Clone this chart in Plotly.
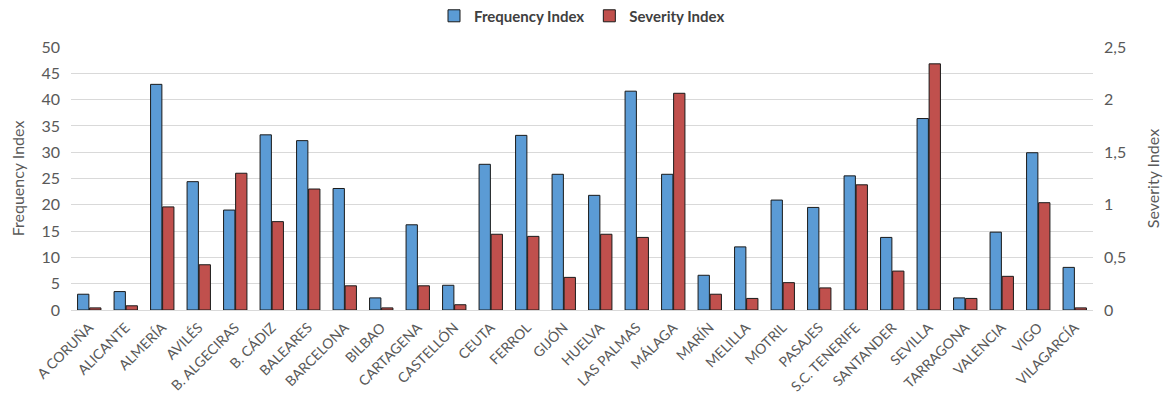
import plotly.graph_objects as go

ports = ["A CORUÑA", "ALICANTE", "ALMERÍA", "AVILÉS", "B. ALGECIRAS", "B. CÁDIZ",
         "BALEARES", "BARCELONA", "BILBAO", "CARTAGENA", "CASTELLÓN", "CEUTA",
         "FERROL", "GIJÓN", "HUELVA", "LAS PALMAS", "MÁLAGA", "MARÍN", "MELILLA",
         "MOTRIL", "PASAJES", "S.C. TENERIFE", "SANTANDER", "SEVILLA", "TARRAGONA",
         "VALENCIA", "VIGO", "VILAGARCÍA"]

frequency_index = [3.0, 3.5, 42.9, 24.4, 19.0, 33.3,
                   32.2, 23.1, 2.3, 16.2, 4.7, 27.7,
                   33.2, 25.8, 21.8, 41.6, 25.8, 6.6, 12.0,
                   20.9, 19.5, 25.5, 13.8, 36.4, 2.3,
                   14.8, 29.9, 8.1]

severity_index = [0.02, 0.04, 0.98, 0.43, 1.30, 0.84,
                  1.15, 0.23, 0.02, 0.23, 0.05, 0.72,
                  0.70, 0.31, 0.72, 0.69, 2.06, 0.15, 0.11,
                  0.26, 0.21, 1.19, 0.37, 2.34, 0.11,
                  0.32, 1.02, 0.02]

grey = "#595959"
font_family = "Lato, 'Open Sans', sans-serif"

fig = go.Figure()
fig.add_trace(go.Bar(
    x=ports, y=frequency_index, name="Frequency Index",
    marker=dict(color="#5B9BD5", line=dict(color="#1a1a1a", width=1)),
    offsetgroup="freq", yaxis="y",
))
fig.add_trace(go.Bar(
    x=ports, y=severity_index, name="Severity Index",
    marker=dict(color="#C0504D", line=dict(color="#1a1a1a", width=1)),
    offsetgroup="sev", yaxis="y2",
))

fig.update_layout(
    width=1163, height=398,
    margin=dict(l=71, r=70, t=47, b=88, autoexpand=False),
    paper_bgcolor="white", plot_bgcolor="white",
    barmode="group", bargap=0.34, bargroupgap=0.06,
    separators=", ",
    font=dict(family=font_family, size=15, color=grey),
    legend=dict(orientation="h", x=0.5, xanchor="center", y=1.055, yanchor="bottom",
                font=dict(size=15, color="#404040", weight="bold"),
                itemwidth=30, traceorder="normal"),
    xaxis=dict(tickangle=-45, tickfont=dict(size=14, color=grey), automargin=False,
               ticklabelstandoff=3,
               showgrid=False, showline=True, linecolor="#D9D9D9", linewidth=1,
               ticks=""),
    yaxis=dict(range=[0, 50], dtick=5, showgrid=True, gridcolor="#D9D9D9", gridwidth=1,
               zeroline=False, tickfont=dict(size=16, color=grey), ticklabelstandoff=10,
               automargin=False,
               title=dict(text="Frequency Index", font=dict(size=16, color=grey), standoff=12)),
    yaxis2=dict(range=[0, 2.5], dtick=0.5, overlaying="y", side="right", showgrid=False,
                zeroline=False, tickfont=dict(size=16, color=grey), tickformat="~g",
                ticklabelstandoff=10, automargin=False,
                title=dict(text="Severity Index", font=dict(size=16, color=grey), standoff=22)),
)

fig.write_html("out.html")
